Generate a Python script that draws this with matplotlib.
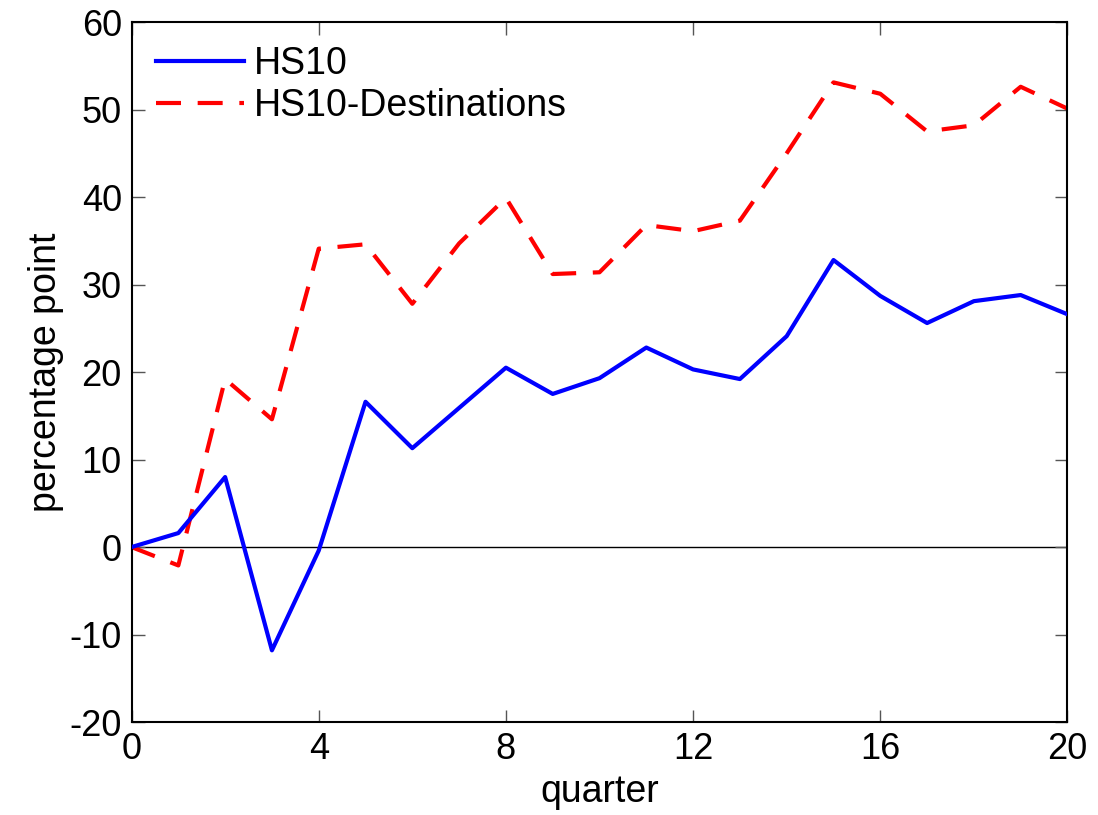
import numpy as np
import matplotlib
matplotlib.use('Agg')
import matplotlib.pyplot as plt

plt.rcParams['font.family'] = ['Liberation Sans', 'DejaVu Sans']
plt.rcParams['axes.unicode_minus'] = False

quarter = np.arange(0, 21)
hs10 = [0, 1.6, 8.0, -11.8, -0.4, 16.6, 11.3, 15.9, 20.5, 17.5, 19.3,
        22.8, 20.3, 19.2, 24.1, 32.8, 28.7, 25.6, 28.1, 28.8, 26.6]
hs10_dest = [0, -2.1, 19.2, 14.6, 34.1, 34.6, 27.8, 34.7, 39.9, 31.2, 31.4,
             36.8, 36.1, 37.3, 45.0, 53.1, 51.8, 47.5, 48.2, 52.6, 50.1]

fig = plt.figure(figsize=(10.98, 8.15), dpi=100)
ax = fig.add_axes([0.1198, 0.114, 0.8524, 0.859])

ax.axhline(0, color='black', linewidth=1.0, zorder=1)
ax.plot(quarter, hs10, color='blue', linewidth=3, label='HS10', zorder=3)
ax.plot(quarter, hs10_dest, color='red', linewidth=3, linestyle=(0, (6, 4)),
        label='HS10-Destinations', zorder=2)

ax.set_xlim(0, 20)
ax.set_ylim(-20, 60)
ax.set_xticks([0, 4, 8, 12, 16, 20])
ax.set_yticks(np.arange(-20, 61, 10))
ax.tick_params(direction='in', length=9, width=1, color='#555555',
               top=True, right=True, labelsize=26, pad=7)
for s in ax.spines.values():
    s.set_linewidth(1.5)

ax.set_xlabel('quarter', fontsize=27, labelpad=5)
ax.set_ylabel('percentage point', fontsize=27, labelpad=4)

ax.legend(loc='upper left', frameon=False, fontsize=27, handlelength=2.35,
          handletextpad=0.25, labelspacing=0.15, borderaxespad=0.25,
          bbox_to_anchor=(0.0, 1.0))

fig.savefig('out.png', dpi=100)
